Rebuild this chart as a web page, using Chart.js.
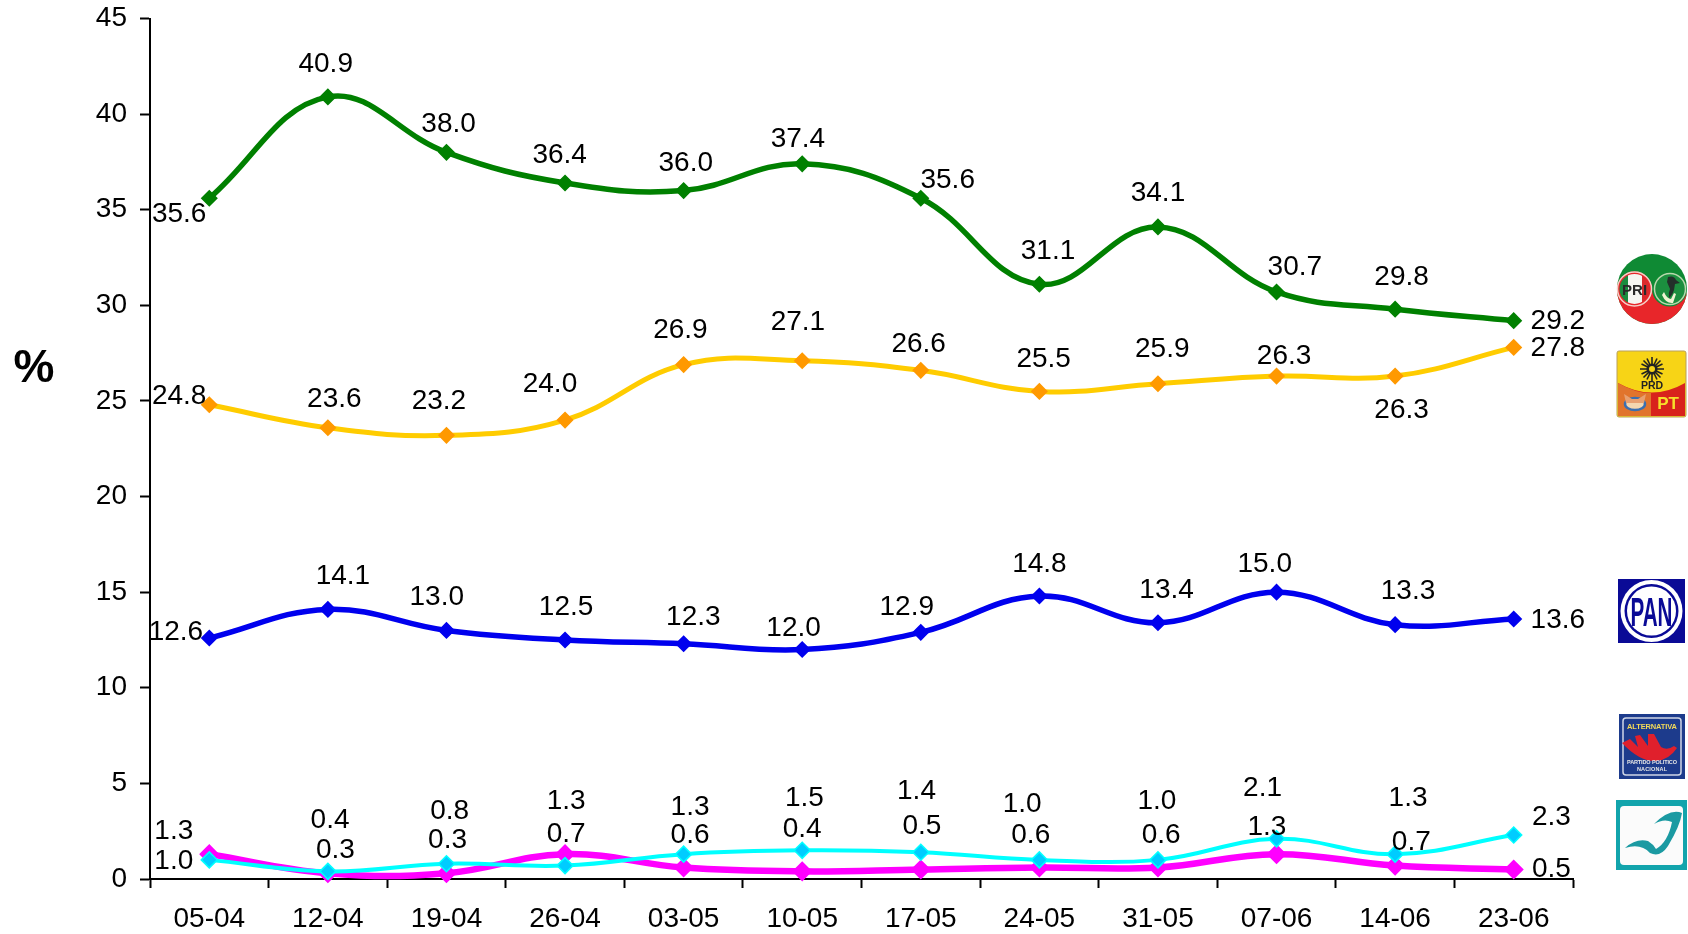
<!DOCTYPE html>
<html><head><meta charset="utf-8">
<style>html,body{margin:0;padding:0;background:#fff;overflow:hidden}#w{position:relative;width:1688px;height:934px}canvas{position:absolute;left:0;top:0}svg{position:absolute;left:0;top:0}</style>
<script src="https://cdn.jsdelivr.net/npm/chart.js@4/dist/chart.umd.min.js"></script>
</head><body><div id="w"><canvas id="c" width="1688" height="934"></canvas>
<svg width="1688" height="934" viewBox="0 0 1688 934" font-family="Liberation Sans, Arial, sans-serif">
 <text x="34" y="382" font-size="46" font-weight="700" text-anchor="middle" fill="#000">%</text>
 <!-- PRI / PVEM -->
 <defs><clipPath id="pl"><circle cx="1634.5" cy="289" r="15"/></clipPath></defs>
 <circle cx="1652" cy="289" r="35" fill="#0f8a34"/>
 <path d="M1617 289A17.5 17.5 0 0 1 1652 289A17.5 17.5 0 0 0 1687 289A35 35 0 0 1 1617 289Z" fill="#e8262a"/>
 <circle cx="1634.5" cy="289" r="17" fill="#e8262a" stroke="#f4d0c8" stroke-width="1.5"/>
 <g clip-path="url(#pl)">
  <rect x="1619" y="274" width="9" height="30" fill="#1a8c3e"/>
  <rect x="1628" y="274" width="14" height="30" fill="#f6f6f2"/>
  <rect x="1642" y="274" width="8" height="30" fill="#dc2a2c"/>
 </g>
 <text x="1622 1632 1643" y="295" font-size="15" font-weight="700" fill="#2a2a2a">PRI</text>
 <circle cx="1670" cy="289" r="15.5" fill="#1c8f3f" stroke="#b9d8ad" stroke-width="1.5"/>
 <path d="M1668 277q6 -2 8 3l4 3l-5 1l-1 6q-2 6 -5 8q-1 -5 1 -9l-3 -7z" fill="#23302a"/>
 <path d="M1664 292q3 7 7 7l3 -6l2 1l-3 9q-7 1 -11 -8z" fill="#f0f3d2"/>
 <!-- PRD / PT -->
 <rect x="1617" y="351" width="69" height="66" rx="2" fill="#f7d416" stroke="#b9a05a"/>
 <path d="M1618 383Q1652 402 1685 383V416H1618Z" fill="#d8231c"/>
 <path d="M1618 383Q1635 393 1651 393V416H1618Z" fill="#e1742c"/>
 <g stroke="#222" stroke-width="1.6"><path d="M1652 357V381M1640 369H1664M1643.5 360.5L1660.5 377.5M1660.5 360.5L1643.5 377.5M1647 358.5L1657 379.5M1657 358.5L1647 379.5M1641.5 364L1662.5 374M1662.5 364L1641.5 374"/></g>
 <circle cx="1652" cy="369" r="5.5" fill="#222"/><circle cx="1652" cy="369" r="3" fill="#f7d416"/>
 <text x="1652" y="389" font-size="10.5" font-weight="700" text-anchor="middle" fill="#222">PRD</text>
 <text x="1668" y="409" font-size="17" font-weight="700" text-anchor="middle" fill="#f7e02a">PT</text>
 <ellipse cx="1635" cy="404" rx="10" ry="6" fill="#f3d7b0" stroke="#3a6fb0" stroke-width="2.5"/>
 <path d="M1624 394l8 5h6l8 -5l-2 9h-18z" fill="#e8a070"/>
 <!-- PAN -->
 <rect x="1618" y="579" width="67" height="64" fill="#0a0a96"/>
 <circle cx="1651.5" cy="611" r="31" fill="#fff"/><circle cx="1651.5" cy="611" r="27" fill="#0a0a96"/><circle cx="1651.5" cy="611" r="24.5" fill="#fff"/>
 <text x="1651.5" y="626" font-size="41" font-weight="700" text-anchor="middle" fill="#0a0a96" textLength="42" lengthAdjust="spacingAndGlyphs">PAN</text>
 <!-- Alternativa -->
 <rect x="1619" y="714" width="66" height="65" fill="#1d3b8c"/>
 <rect x="1623" y="718" width="58" height="57" rx="3" fill="none" stroke="#cfd6e6" stroke-width="1.5"/>
 <text x="1652" y="729" font-size="7.5" font-weight="700" text-anchor="middle" fill="#f2d95a" textLength="50">ALTERNATIVA</text>
 <path d="M1622 743l8 -4l8 8l-3 -11l5 -1l8 11l0 -12l6 0l7 13q6 4 13 -1l3 2q-8 12 -21 13q-16 1 -34 -18z" fill="#e0202c"/>
 <text x="1652" y="764" font-size="5.5" font-weight="700" text-anchor="middle" fill="#e6e6e6" textLength="50">PARTIDO POLITICO</text>
 <text x="1652" y="771" font-size="5.5" font-weight="700" text-anchor="middle" fill="#e6e6e6" textLength="30">NACIONAL</text>
 <!-- Social Demócrata check -->
 <rect x="1616" y="800" width="71" height="70" fill="#12a4ac"/>
 <rect x="1620" y="806" width="63" height="59" rx="4" fill="#fbfbfb"/>
 <path d="M1625 848Q1636 838 1648 841Q1653 844 1656 849Q1668 842 1672 822Q1664 818 1654 824Q1670 808 1682 813Q1680 826 1668 846Q1660 858 1650 853Q1641 843 1625 848Z" fill="#1b9aa2"/>
</svg></div>
<script>
const categories = ['05-04','12-04','19-04','26-04','03-05','10-05','17-05','24-05','31-05','07-06','14-06','23-06'];
const priValues  = [35.6,40.9,38.0,36.4,36.0,37.4,35.6,31.1,34.1,30.7,29.8,29.2];
const prdValues  = [24.8,23.6,23.2,24.0,26.9,27.1,26.6,25.5,25.9,26.3,26.3,27.8];
const panValues  = [12.6,14.1,13.0,12.5,12.3,12.0,12.9,14.8,13.4,15.0,13.3,13.6];
const naValues   = [1.3,0.3,0.3,1.3,0.6,0.4,0.5,0.6,0.6,1.3,0.7,0.5];
const psdValues  = [1.0,0.4,0.8,0.7,1.3,1.5,1.4,1.0,1.0,2.1,1.3,2.3];
const yTicks = [0,5,10,15,20,25,30,35,40,45];

// label placement: [dx,dy] from each marker
const S = 1688/1568;
const priOff = [[-28,14],[-2,-31],[2,-27],[-5,-27],[2,-26],[-4,-24],[25,-18],[8,-32],[0,-32],[17,-24],[6,-31],[41,0]];
const prdOff = [[-28,-9],[6,-27],[-7,-33],[-14,-34],[-3,-33],[-4,-37],[-2,-25],[4,-31],[4,-33],[7,-19],[6,31],[41,0]];
const panOff = [[-31,-6],[14,-32],[-9,-32],[1,-31],[9,-26],[-8,-21],[-13,-24],[0,-30],[8,-31],[-11,-27],[12,-32],[41,0]];
const naOff  = [[-33,-22],[7,-22],[1,-32],[1,-50],[6,-31],[0,-40],[1,-41],[-8,-31],[3,-31],[-9,-26],[15,-23],[35,-1]];
const psdOff = [[-33,0],[2,-48],[3,-50],[1,-30],[6,-44],[2,-49],[-4,-58],[-16,-53],[-1,-55],[-13,-48],[12,-53],[35,-17]];

const FONT = '"Liberation Sans", Arial, sans-serif';
function ds(label,data,line,fill,edge,bw,r,off,order){
  return {label,data,borderColor:line,backgroundColor:fill,pointBackgroundColor:fill,pointBorderColor:edge,
    borderWidth:bw,pointStyle:'rectRot',pointRadius:r,pointHoverRadius:r,pointBorderWidth:1.5,tension:0.4,cubicInterpolationMode:'default',fill:false,clip:false,offs:off,order};
}
const labelPlugin = {
  id:'pointLabels',
  afterDatasetsDraw(chart){
    const {ctx} = chart;
    ctx.save();
    ctx.font = '28px '+FONT; ctx.fillStyle='#000'; ctx.textAlign='center'; ctx.textBaseline='middle';
    chart.data.datasets.forEach((d,i)=>{
      chart.getDatasetMeta(i).data.forEach((p,j)=>{
        ctx.fillText(d.data[j].toFixed(1), p.x+d.offs[j][0]*S, p.y+d.offs[j][1]*S+1);
      });
    });
    ctx.restore();
  }
};
Chart.defaults.font.family = FONT;
new Chart(document.getElementById('c'),{
  type:'line',
  data:{labels:categories,datasets:[
    ds('PRI-PVEM',priValues,'#008000','#008000','#008000',5.5,7.5,priOff,3),
    ds('PRD-PT-Convergencia',prdValues,'#ffcc00','#ff9900','#ff9900',5,7.5,prdOff,4),
    ds('PAN',panValues,'#0000ee','#0000ee','#0000ee',5.5,7.5,panOff,5),
    ds('PSD',psdValues,'#00ffff','#00ccff','#00ffff',4,8,psdOff,1),
    ds('Nueva Alianza',naValues,'#ff00ff','#ff00ff','#ff00ff',6.5,9,naOff,2)
  ]},
  plugins:[labelPlugin],
  options:{
    responsive:false,animation:false,devicePixelRatio:1,
    layout:{padding:{top:18.5,right:115,left:0,bottom:0}},
    plugins:{legend:{display:false},tooltip:{enabled:false},title:{display:false}},
    scales:{
      x:{type:'category',offset:true,
        afterFit(s){s.height=55;s.paddingLeft=0;s.paddingRight=0;},
        grid:{offset:true,drawOnChartArea:false,drawTicks:true,tickLength:9,tickColor:'#000',tickWidth:2},
        border:{display:true,color:'#000',width:2},
        ticks:{color:'#000',font:{size:28,family:FONT},padding:14,maxRotation:0,autoSkip:false}},
      y:{type:'linear',min:0,max:45,
        afterFit(s){s.width=150;s.paddingTop=0;s.paddingBottom=0;},
        afterBuildTicks(s){s.ticks=yTicks.map(v=>({value:v}));},
        grid:{drawOnChartArea:false,drawTicks:true,tickLength:10,tickColor:'#000',tickWidth:2},
        border:{display:true,color:'#000',width:2},
        ticks:{color:'#000',font:{size:28,family:FONT},padding:13}}
    }
  }
});
</script></body></html>
